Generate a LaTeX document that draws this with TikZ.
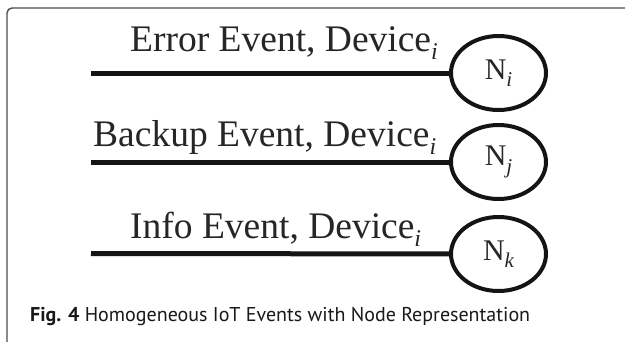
\documentclass[tikz,border=0pt]{standalone}
\usepackage{fontspec}
\setmainfont{Liberation Serif}
\newfontfamily\capfont{PT Sans}
\usetikzlibrary{shapes.geometric}
\tikzset{
  evnode/.style={draw=black!92, line width=4pt, ellipse, minimum width=95pt, minimum height=74pt, inner sep=0pt, font=\fontsize{30}{30}\selectfont, text=black!85},
  evline/.style={draw=black!92, line width=5pt},
  evlabel/.style={anchor=base west, inner sep=0pt, font=\fontsize{37.5}{37.5}\selectfont, text=black!85},
  frameline/.style={draw=black!70, line width=1.4pt, rounded corners=5pt},
  captext/.style={anchor=base west, inner sep=0pt, font=\capfont\fontsize{20}{20}\selectfont, text=black!90}
}
\newcommand{\evsub}[1]{\raisebox{-0.22em}{\fontsize{24}{24}\selectfont\itshape #1}}
\newcommand{\nsub}[1]{\raisebox{-0.25em}{\fontsize{21}{21}\selectfont\itshape #1}}
\begin{document}
\begin{tikzpicture}[x=1pt,y=-1pt]
\useasboundingbox (0,0) rectangle (625,341);
\fill[white] (0,0) rectangle (625,341);
\coordinate (fb) at (7,345);
\coordinate (fc) at (7,8);
\coordinate (fr) at (630,8);
\draw[frameline] (fb) -- (fc) -- (fr);
% nodes
\node[evnode] (n1) at (498.5,73) {N\nsub{i}};
\node[evnode] (n2) at (498.5,162) {N\nsub{j}};
\node[evnode] (n3) at (498.5,254) {N\nsub{k}};
\coordinate (s1) at (91,73);
\coordinate (s2) at (91,162);
\coordinate (s3) at (91,253.5);
\draw[evline] (s1) -- (n1);
\draw[evline] (s2) -- (n2);
\draw[evline] (s3) -- (n3);
\node[evlabel] (t1) at (130,51.7) {Error Event, Device\evsub{i}};
\node[evlabel] (t2) at (93,146.7) {Backup Event, Device\evsub{i}};
\node[evlabel] (t3) at (130,238.3) {Info Event, Device\evsub{i}};
\node[captext] (cap) at (30,321.7) {\textbf{Fig. 4} Homogeneous IoT Events with Node Representation};
\end{tikzpicture}
\end{document}
